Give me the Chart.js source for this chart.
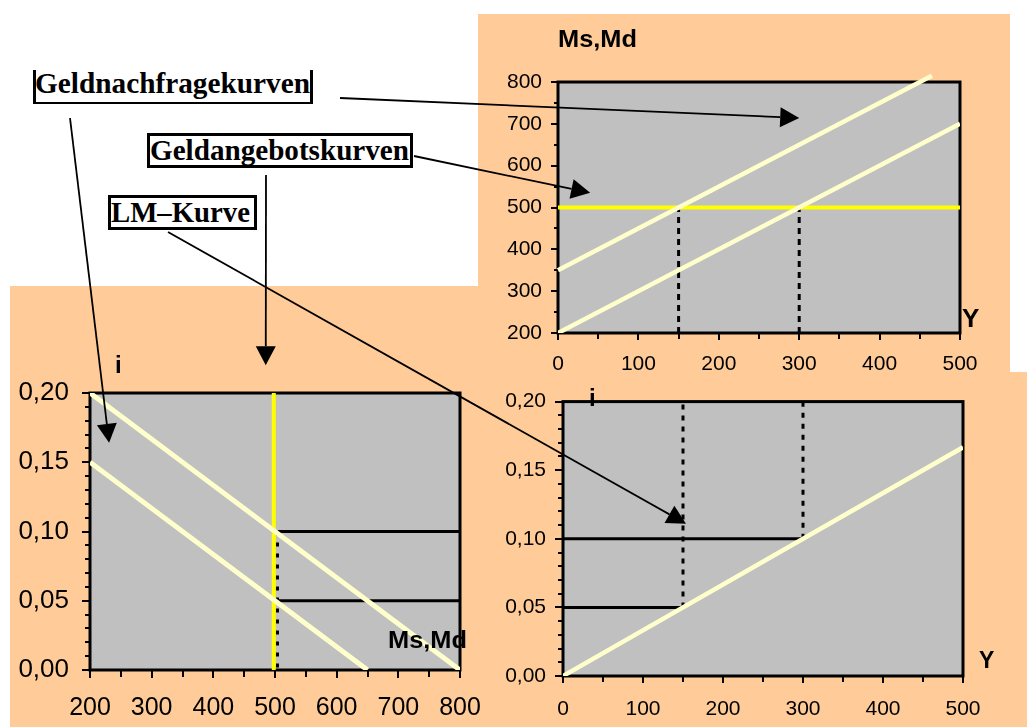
<!DOCTYPE html>
<html>
<head>
<meta charset="utf-8">
<title>Geldmarkt und LM-Kurve</title>
<script src="https://cdn.jsdelivr.net/npm/chart.js@4.4.1/dist/chart.umd.min.js"></script>
<style>
  html, body { margin: 0; padding: 0; background: #fff; }
  #page { position: relative; width: 1027px; height: 727px; overflow: hidden; background: #fff; }
  .bg { position: absolute; background: #ffcc99; }
  .cv { position: absolute; }
  .cv canvas { display: block; }
  .sans { position: absolute; font-family: "Liberation Sans", Arial, Helvetica, sans-serif; font-weight: bold;
          line-height: 1; white-space: nowrap; color: #000; transform-origin: 0 0; }
  .serif { position: absolute; font-family: "Liberation Serif", "Times New Roman", serif; font-weight: bold;
           line-height: 1; white-space: nowrap; color: #000; transform-origin: 0 0; }
  .box { position: absolute; box-sizing: border-box; background: #fff; border: 3px solid #000; }
  #arrows { position: absolute; left: 0; top: 0; }
</style>
</head>
<body>
<div id="page">
  <div class="bg" style="left:478px;top:14px;width:532px;height:358px"></div>
  <div class="bg" style="left:10px;top:286px;width:470px;height:441px"></div>
  <div class="bg" style="left:480px;top:372px;width:547px;height:355px"></div>

  <div class="box" style="left:33px;top:70px;width:280px;height:34px;border-top:none;border-bottom-width:2px"></div>
  <div class="box" style="left:147px;top:133px;width:266px;height:35px"></div>
  <div class="box" style="left:108px;top:195px;width:149px;height:35px"></div>

  <div class="cv" id="w1" style="left:478px;top:14px"><canvas id="c1" width="532" height="358"></canvas></div>
  <div class="cv" id="w2" style="left:10px;top:286px"><canvas id="c2" width="500" height="441"></canvas></div>
  <div class="cv" id="w3" style="left:480px;top:372px"><canvas id="c3" width="547" height="355"></canvas></div>
</div>

<script>
// ---------- Geldmarkt: Y -> Ms, Md (oben rechts) ----------
const mdHighY = [0, 465];      const mdHighM = [350, 815];
const mdLowY  = [0, 500];      const mdLowM  = [200, 700];
const msY     = [0, 500];      const msM     = [500, 500];
const guideA_Y = [150, 150];   const guideA_M = [200, 500];
const guideB_Y = [300, 300];   const guideB_M = [200, 500];

// ---------- Geldmarkt: Ms, Md -> i (unten links) ----------
const ldHighM = [200, 800];    const ldHighI = [0.20, 0.00];
const ldLowM  = [200, 650];    const ldLowI  = [0.15, 0.00];
const lsM     = [498, 498];    const lsI     = [0.00, 0.20];
const lsDashM = [504, 504];    const lsDashI = [0.10, 0.00];
const rate10M = [504, 800];    const rate10I = [0.10, 0.10];
const rate05M = [504, 800];    const rate05I = [0.05, 0.05];

// ---------- LM-Kurve: Y -> i (unten rechts) ----------
const lmY   = [0, 500];        const lmI   = [0.00, 0.1667];
const h10Y  = [0, 300];        const h10I  = [0.10, 0.10];
const v300Y = [300, 300];      const v300I = [0.10, 0.20];
const h05Y  = [0, 150];        const h05I  = [0.05, 0.05];
const v150Y = [150, 150];      const v150I = [0.05, 0.20];

// tick label sets
const incomeTicks = [0, 100, 200, 300, 400, 500];
const moneyTicksTop = [200, 300, 400, 500, 600, 700, 800];
const moneyTicksLeft = [200, 300, 400, 500, 600, 700, 800];
const rateTicks = [0.00, 0.05, 0.10, 0.15, 0.20];

const FONT = '"Liberation Sans", Arial, Helvetica, sans-serif';
const CREAM = '#ffffcc', YELLOW = '#ffff00', GREY = '#c0c0c0';

const pts = (xs, ys) => xs.map((x, i) => ({ x, y: ys[i] }));
const comma2 = v => v.toFixed(2).replace('.', ',');
const plain = v => String(Math.round(v));

function line(xs, ys, color, width, dash, extra) {
  return Object.assign({
    data: pts(xs, ys), borderColor: color, borderWidth: width,
    borderDash: dash || [], pointRadius: 0, tension: 0, fill: false, borderCapStyle: 'butt'
  }, extra || {});
}

// grey plot area, black frame and outside tick marks (major + minor)
const framePlugin = {
  id: 'frame',
  beforeDatasetsDraw(chart, args, o) {
    const { ctx, chartArea: a } = chart;
    ctx.save();
    ctx.fillStyle = GREY;
    ctx.fillRect(a.left, a.top, a.right - a.left, a.bottom - a.top);
    ctx.strokeStyle = '#000';
    ctx.lineWidth = 2;
    ['x', 'y'].forEach(id => {
      const s = chart.scales[id], t = o[id];
      const n = Math.round((s.max - s.min) / t.minor);
      for (let k = 0; k <= n; k++) {
        const v = s.min + k * t.minor;
        const r = v / t.major;
        const isMajor = Math.abs(r - Math.round(r)) < 1e-6;
        const len = isMajor ? t.majLen : t.minLen;
        const p = Math.round(s.getPixelForValue(v));
        ctx.beginPath();
        if (id === 'y') { ctx.moveTo(a.left - len, p); ctx.lineTo(a.left, p); }
        else { ctx.moveTo(p, a.bottom); ctx.lineTo(p, a.bottom + len); }
        ctx.stroke();
      }
    });
    ctx.lineWidth = 3;
    ctx.strokeRect(a.left, a.top, a.right - a.left, a.bottom - a.top);
    ctx.restore();
  }
};

function axis(min, max, step, size, pad, fmt, fitKey, fitVal, tickList) {
  return {
    type: 'linear', min, max,
    ticks: {
      stepSize: step, color: '#000', padding: pad, autoSkip: false, maxRotation: 0,
      font: { family: FONT, size }, callback: v => fmt(v)
    },
    afterBuildTicks: s => { s.ticks = tickList.map(v => ({ value: v })); },
    grid: { display: false, drawTicks: false },
    border: { display: false },
    afterFit: s => { s[fitKey] = fitVal; }
  };
}

function makeChart(id, datasets, scales, padding, frame) {
  return new Chart(document.getElementById(id), {
    type: 'line',
    data: { datasets },
    plugins: [framePlugin],
    options: {
      responsive: false, animation: false, devicePixelRatio: 1, events: [],
      layout: { padding },
      plugins: { legend: { display: false }, tooltip: { enabled: false }, frame },
      scales
    }
  });
}

// chart 1: money demand/supply against income
const chart1 = makeChart('c1', [
  line(mdHighY, mdHighM, CREAM, 4.5, null, { clip: false }),
  line(mdLowY, mdLowM, CREAM, 4.5),
  line(msY, msM, YELLOW, 4),
  line(guideA_Y, guideA_M, '#000', 3, [6, 5]),
  line(guideB_Y, guideB_M, '#000', 3, [6, 5])
], {
  x: axis(0, 500, 100, 21, 19, plain, 'height', 39, incomeTicks),
  y: axis(200, 800, 100, 21, 16, plain, 'width', 80, moneyTicksTop)
}, { top: 68, right: 50, left: 0, bottom: 0 }, {
  x: { major: 100, minor: 50, majLen: 7, minLen: 6 },
  y: { major: 100, minor: 50, majLen: 7, minLen: 4 }
});

// chart 2: interest rate against money demand/supply
const chart2 = makeChart('c2', [
  line(ldHighM, ldHighI, CREAM, 5),
  line(ldLowM, ldLowI, CREAM, 5),
  line(lsM, lsI, YELLOW, 4),
  line(lsDashM, lsDashI, '#000', 3, [4, 7]),
  line(rate10M, rate10I, '#000', 3),
  line(rate05M, rate05I, '#000', 3)
], {
  x: axis(200, 800, 100, 25, 23, plain, 'height', 57, moneyTicksLeft),
  y: axis(0, 0.20, 0.05, 26, 21, comma2, 'width', 80, rateTicks)
}, { top: 107, right: 50, left: 0, bottom: 0 }, {
  x: { major: 100, minor: 50, majLen: 8, minLen: 7 },
  y: { major: 0.05, minor: 0.01, majLen: 8, minLen: 5 }
});

// chart 3: LM curve
const chart3 = makeChart('c3', [
  line(lmY, lmI, CREAM, 4.5),
  line(h10Y, h10I, '#000', 3),
  line(v300Y, v300I, '#000', 3, [5, 6]),
  line(h05Y, h05I, '#000', 3),
  line(v150Y, v150I, '#000', 3, [5, 6])
], {
  x: axis(0, 500, 100, 21, 21, plain, 'height', 51, incomeTicks),
  y: axis(0, 0.20, 0.05, 21, 17, comma2, 'width', 83, rateTicks)
}, { top: 23, right: 64, left: 0, bottom: 0 }, {
  x: { major: 100, minor: 50, majLen: 7, minLen: 6 },
  y: { major: 0.05, minor: 0.01, majLen: 8, minLen: 5 }
});

// ---------- text ----------
const page = document.getElementById('page');
function addText(cls, txt, x, baseline, size, targetW) {
  const d = document.createElement('div');
  d.className = cls;
  d.textContent = txt;
  d.style.fontSize = size + 'px';
  const k = cls === 'serif' ? 0.8375 : 0.8465;
  d.style.left = x + 'px';
  d.style.top = (baseline - k * size) + 'px';
  page.appendChild(d);
  if (targetW) {
    const w = d.getBoundingClientRect().width;
    d.style.transform = 'scaleX(' + (targetW / w) + ')';
  }
  return d;
}

addText('serif', 'Geldnachfragekurven', 35, 93, 29, 275);
addText('serif', 'Geldangebotskurven', 150, 160, 29, 259);
addText('serif', 'LM\u2013Kurve', 111, 222, 29, 139);

addText('sans', 'Ms,Md', 558, 47, 24, 79);
addText('sans', 'Y', 962, 327, 26);
addText('sans', 'i', 115, 373, 24);
addText('sans', 'Ms,Md', 388, 648, 24, 79);
addText('sans', 'i', 589, 406, 24);
addText('sans', 'Y', 979, 668, 23);

// ---------- arrows from the labels into the charts ----------
function pagePoint(chart, wrapId, vx, vy) {
  const w = document.getElementById(wrapId);
  return [w.offsetLeft + chart.scales.x.getPixelForValue(vx),
          w.offsetTop + chart.scales.y.getPixelForValue(vy)];
}
const arrows = [
  { from: [340, 98],  to: pagePoint(chart1, 'w1', 300, 714) },
  { from: [414, 156], to: pagePoint(chart1, 'w1', 40, 535) },
  { from: [70, 118],  to: pagePoint(chart2, 'w2', 231, 0.164) },
  { from: [266, 175], to: pagePoint(chart2, 'w2', 485, 0.220) },
  { from: [168, 232], to: pagePoint(chart3, 'w3', 153.75, 0.111) }
];
const NS = 'http://www.w3.org/2000/svg';
const svg = document.createElementNS(NS, 'svg');
svg.setAttribute('id', 'arrows');
svg.setAttribute('width', 1027);
svg.setAttribute('height', 727);
arrows.forEach(a => {
  const [x0, y0] = a.from, [x1, y1] = a.to;
  const dx = x1 - x0, dy = y1 - y0, L = Math.hypot(dx, dy);
  const ux = dx / L, uy = dy / L, px = -uy, py = ux;
  const head = 19, half = 10;
  const bx = x1 - ux * head, by = y1 - uy * head;
  const ln = document.createElementNS(NS, 'line');
  ln.setAttribute('x1', x0); ln.setAttribute('y1', y0);
  ln.setAttribute('x2', bx); ln.setAttribute('y2', by);
  ln.setAttribute('stroke', '#000'); ln.setAttribute('stroke-width', 1.8);
  svg.appendChild(ln);
  const tri = document.createElementNS(NS, 'polygon');
  tri.setAttribute('points', [
    [x1, y1], [bx + px * half, by + py * half], [bx - px * half, by - py * half]
  ].map(p => p.join(',')).join(' '));
  tri.setAttribute('fill', '#000');
  svg.appendChild(tri);
});
page.appendChild(svg);
</script>
</body>
</html>
